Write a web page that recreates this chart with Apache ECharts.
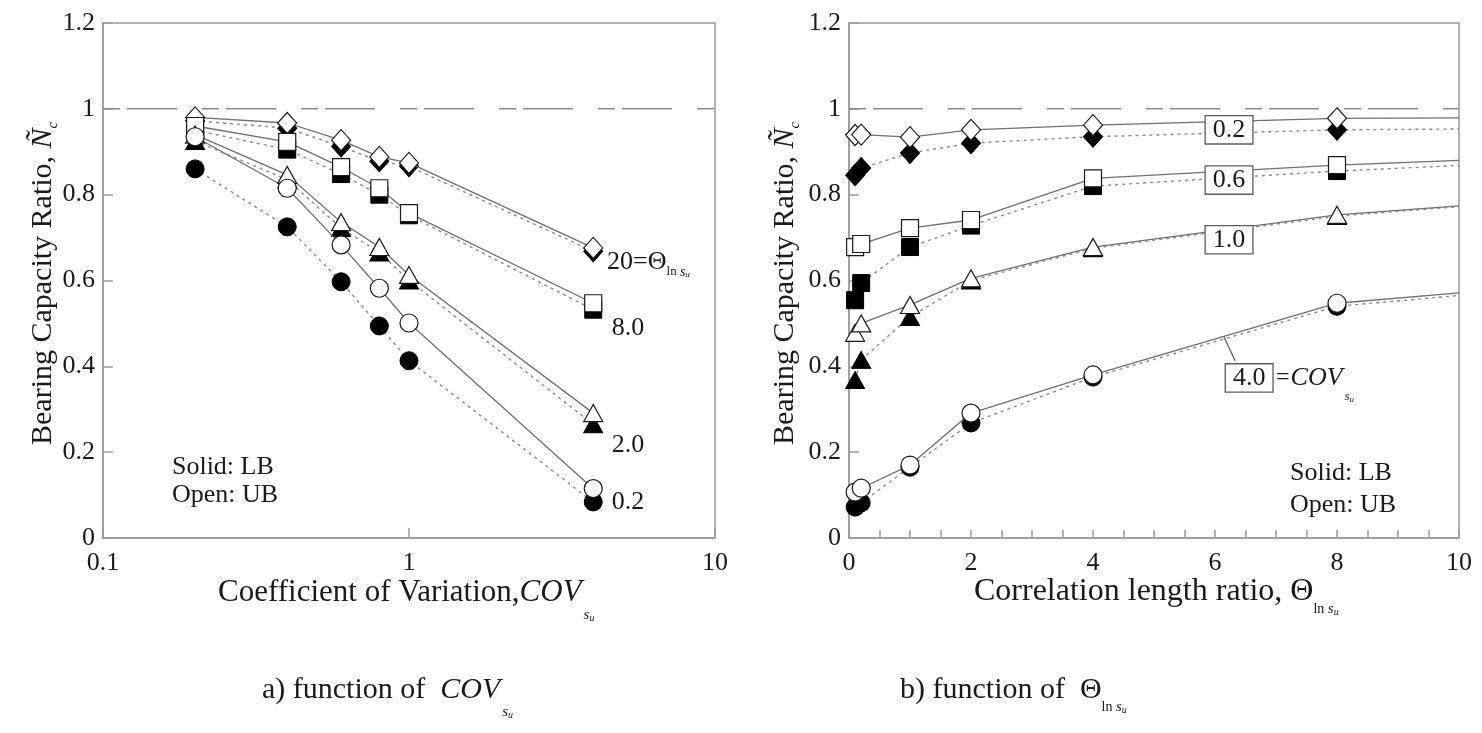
<!DOCTYPE html>
<html><head><meta charset="utf-8">
<script src="https://cdn.jsdelivr.net/npm/echarts/dist/echarts.min.js"></script>
<style>html,body{margin:0;padding:0;background:#fff}#c{width:1482px;height:733px}</style>
</head><body><div id="c"></div>
<script>
// ---------- data ----------
const COV = [0.2, 0.4, 0.6, 0.8, 1.0, 4.0];           // left plot x values
const TH20_UB = [0.980, 0.967, 0.927, 0.888, 0.874, 0.676];
const TH20_LB = [0.972, 0.955, 0.912, 0.878, 0.866, 0.668];
const TH8_UB  = [0.960, 0.923, 0.864, 0.815, 0.757, 0.547];
const TH8_LB  = [0.950, 0.905, 0.848, 0.800, 0.752, 0.532];
const TH2_UB  = [0.940, 0.846, 0.736, 0.678, 0.613, 0.291];
const TH2_LB  = [0.925, 0.835, 0.722, 0.665, 0.600, 0.265];
const TH02_UB = [0.935, 0.815, 0.683, 0.582, 0.501, 0.115];
const TH02_LB = [0.860, 0.725, 0.597, 0.494, 0.413, 0.084];

const THETA = [0.1, 0.2, 1, 2, 4, 8, 10];             // right plot x values (10 = curve end, no marker)
const C02_UB = [0.939, 0.940, 0.934, 0.951, 0.962, 0.978, 0.979];
const C02_LB = [0.845, 0.862, 0.897, 0.920, 0.935, 0.951, 0.953];
const C06_UB = [0.678, 0.685, 0.722, 0.741, 0.838, 0.869, 0.880];
const C06_LB = [0.554, 0.594, 0.678, 0.728, 0.820, 0.855, 0.868];
const C10_UB = [0.478, 0.500, 0.543, 0.605, 0.678, 0.753, 0.774];
const C10_LB = [0.368, 0.415, 0.515, 0.600, 0.675, 0.750, 0.772];
const C40_UB = [0.107, 0.116, 0.170, 0.291, 0.380, 0.547, 0.571];
const C40_LB = [0.072, 0.082, 0.165, 0.268, 0.375, 0.540, 0.565];

const REF_VALUE = 1;
const Y_TICKS = [0, 0.2, 0.4, 0.6, 0.8, 1, 1.2];
// ----------------------------------------------------

const FF = '"Liberation Serif", "Times New Roman", serif';
const AX = {color: '#9a9a9a', width: 1.5};
const chart = echarts.init(document.getElementById('c'), null, {renderer: 'canvas'});

function yAxis(gi) {
  return {type: 'value', gridIndex: gi, min: Y_TICKS[0], max: Y_TICKS[Y_TICKS.length - 1], interval: 0.2,
    axisLine: {show: true, lineStyle: AX}, axisTick: {show: true, inside: true, length: 10, lineStyle: AX},
    splitLine: {show: false},
    axisLabel: {fontFamily: FF, fontSize: 26, color: '#1a1a1a', margin: 8,
      formatter: v => String(Math.round(v * 10) / 10)}};
}

function mk(gi, xs, ys, symbol, size, open, lastNone) {
  return {
    type: 'line', xAxisIndex: gi, yAxisIndex: gi, animation: false, silent: true,
    z: open ? 4 : 3,
    data: xs.map((x, i) => (lastNone && i === xs.length - 1) ? {value: [x, ys[i]], symbol: 'none'} : [x, ys[i]]),
    symbol: symbol, symbolSize: size, showAllSymbol: true,
    lineStyle: open ? {color: '#6f6f6f', width: 1.3, type: 'solid'} : {color: '#8a8a8a', width: 1.4, type: [3, 4]},
    itemStyle: open ? {color: '#fff', borderColor: '#1a1a1a', borderWidth: 1.2} : {color: '#000', borderColor: '#000', borderWidth: 1},
    emphasis: {disabled: true}
  };
}

const SYM = {
  dia: ['diamond', [19, 21]], sq: ['rect', 17], tri: ['triangle', [19, 17]], cir: ['circle', 18]
};

const series = [];
// reference lines at 1
series.push({type: 'line', xAxisIndex: 0, yAxisIndex: 0, data: [[0.1, REF_VALUE], [10, REF_VALUE]], symbol: 'none', silent: true,
  lineStyle: {color: '#8a8a8a', width: 1.5, type: [17, 7, 50, 25]}, z: 1, animation: false});
series.push({type: 'line', xAxisIndex: 1, yAxisIndex: 1, data: [[0, REF_VALUE], [10, REF_VALUE]], symbol: 'none', silent: true,
  lineStyle: {color: '#8a8a8a', width: 1.5, type: [17, 7, 50, 25]}, z: 1, animation: false});

// left: LB first (solid, dotted line), then UB (open, solid line)
[[TH20_LB, 'dia'], [TH8_LB, 'sq'], [TH2_LB, 'tri'], [TH02_LB, 'cir']].forEach(([d, s]) =>
  series.push(mk(0, COV, d, SYM[s][0], SYM[s][1], false, false)));
[[TH20_UB, 'dia'], [TH8_UB, 'sq'], [TH2_UB, 'tri'], [TH02_UB, 'cir']].forEach(([d, s]) =>
  series.push(mk(0, COV, d, SYM[s][0], SYM[s][1], true, false)));
// right
[[C02_LB, 'dia'], [C06_LB, 'sq'], [C10_LB, 'tri'], [C40_LB, 'cir']].forEach(([d, s]) =>
  series.push(mk(1, THETA, d, SYM[s][0], SYM[s][1], false, true)));
[[C02_UB, 'dia'], [C06_UB, 'sq'], [C10_UB, 'tri'], [C40_UB, 'cir']].forEach(([d, s]) =>
  series.push(mk(1, THETA, d, SYM[s][0], SYM[s][1], true, true)));

chart.setOption({
  animation: false,
  backgroundColor: '#fff',
  grid: [
    {left: 103, top: 23, width: 612, height: 515, show: true, borderColor: '#9a9a9a', borderWidth: 1.5, backgroundColor: 'transparent'},
    {left: 849, top: 23, width: 610, height: 515, show: true, borderColor: '#9a9a9a', borderWidth: 1.5, backgroundColor: 'transparent'}
  ],
  xAxis: [
    {type: 'log', logBase: 10, gridIndex: 0, min: 0.1, max: 10,
      axisLine: {show: true, lineStyle: AX}, axisTick: {show: true, inside: true, length: 10, lineStyle: AX},
      splitLine: {show: false},
      axisLabel: {fontFamily: FF, fontSize: 26, color: '#1a1a1a', margin: 12, formatter: v => String(+(+v).toPrecision(3))}},
    {type: 'value', gridIndex: 1, min: 0, max: 10, interval: 2,
      axisLine: {show: true, lineStyle: AX}, axisTick: {show: true, inside: true, length: 8, lineStyle: AX},
      minorTick: {show: true, splitNumber: 4, length: 8, lineStyle: AX},
      splitLine: {show: false},
      axisLabel: {fontFamily: FF, fontSize: 26, color: '#1a1a1a', margin: 12}}
  ],
  yAxis: [yAxis(0), yAxis(1)],
  series: series
});

// ---------- text annotations ----------
const cv = document.createElement('canvas').getContext('2d');
function fontStr(fs, it) { return (it ? 'italic ' : '') + fs + 'px "Liberation Serif"'; }
function measure(t, f) { cv.font = f; return cv.measureText(t).width; }
function txt(x, y, t, fs, it, extra) {
  return {type: 'text', x: x, y: y, silent: true, z: 50,
    style: Object.assign({text: t, font: fontStr(fs, it), fill: '#1a1a1a', textAlign: 'left', textVerticalAlign: 'middle',
      align: 'left', verticalAlign: 'middle'}, extra || {})};
}
// sequence of segments laid out horizontally in a (possibly rotated) group
function seq(x, y, rot, segs) {
  let cx = 0; const ch = [];
  segs.forEach(s => {
    const f = fontStr(s.fs, s.it);
    ch.push(txt(cx, s.dy || 0, s.t, s.fs, s.it));
    cx += measure(s.t, f) + (s.gap || 0);
  });
  return {type: 'group', x: x, y: y, rotation: rot || 0, children: ch, silent: true, z: 50};
}
const P0 = p => chart.convertToPixel({gridIndex: 0}, p);
const P1 = p => chart.convertToPixel({gridIndex: 1}, p);

const g = [];
// axis titles
g.push(seq(43, 445, Math.PI / 2, [
  {t: 'Bearing Capacity Ratio, ', fs: 30}, {t: 'Ñ', fs: 30, it: true}, {t: 'c', fs: 15, it: true, dy: 10}]));
g.push(seq(785, 445, Math.PI / 2, [
  {t: 'Bearing Capacity Ratio, ', fs: 30}, {t: 'Ñ', fs: 30, it: true}, {t: 'c', fs: 15, it: true, dy: 10}]));
g.push(seq(218, 593, 0, [
  {t: 'Coefficient of Variation,', fs: 31}, {t: 'COV', fs: 31, it: true, gap: 2}, {t: 's', fs: 15, it: true, dy: 22}, {t: 'u', fs: 10, it: true, dy: 25}]));
g.push(seq(974, 592, 0, [
  {t: 'Correlation length ratio, Θ', fs: 32}, {t: 'ln ', fs: 14, dy: 17}, {t: 's', fs: 15, it: true, dy: 17}, {t: 'u', fs: 10, it: true, dy: 20}]));
// captions
g.push(seq(262, 690, 0, [
  {t: 'a) function of  ', fs: 30}, {t: 'COV', fs: 30, it: true, gap: 2}, {t: 's', fs: 15, it: true, dy: 22}, {t: 'u', fs: 10, it: true, dy: 25}]));
g.push(seq(900, 690, 0, [
  {t: 'b) function of  Θ', fs: 30}, {t: 'ln ', fs: 14, dy: 17}, {t: 's', fs: 15, it: true, dy: 17}, {t: 'u', fs: 10, it: true, dy: 20}]));

// left plot labels
let p = P0([4.44, 0.643]);
g.push(seq(p[0], p[1], 0, [{t: '20=Θ', fs: 26}, {t: 'ln ', fs: 13, dy: 10}, {t: 's', fs: 14, it: true, dy: 10}, {t: 'u', fs: 9, it: true, dy: 13}]));
[['8.0', 0.489], ['2.0', 0.217], ['0.2', 0.084]].forEach(([t, v]) => {
  const q = P0([4.6, v]); g.push(txt(q[0], q[1], t, 26, false));
});
p = P0([0.168, 0.165]); g.push(txt(p[0], p[1], 'Solid: LB', 26, false));
p = P0([0.168, 0.100]); g.push(txt(p[0], p[1], 'Open: UB', 26, false));

// right plot labels
p = P1([7.23, 0.151]); g.push(txt(p[0], p[1], 'Solid: LB', 26, false));
p = P1([7.23, 0.077]); g.push(txt(p[0], p[1], 'Open: UB', 26, false));
const boxStyle = {backgroundColor: '#fff', borderColor: '#5a5a5a', borderWidth: 1.3, padding: [1, 7, 0, 7],
  textAlign: 'center', align: 'center'};
[['0.2', 6.23, 0.951], ['0.6', 6.23, 0.834], ['1.0', 6.23, 0.695], ['4.0', 6.56, 0.373]].forEach(([t, x, v]) => {
  const q = P1([x, v]); g.push(txt(q[0], q[1], t, 26, false, boxStyle));
});
const a1 = P1([6.15, 0.468]), a2 = P1([6.33, 0.413]);
g.push({type: 'line', silent: true, z: 49, shape: {x1: a1[0], y1: a1[1], x2: a2[0], y2: a2[1]}, style: {stroke: '#555', lineWidth: 1.2}});
p = P1([7.0, 0.373]);
g.push(seq(p[0], p[1], 0, [{t: '=', fs: 24, gap: 1}, {t: 'COV', fs: 26, it: true, gap: 2}, {t: 's', fs: 13, it: true, dy: 19}, {t: 'u', fs: 9, it: true, dy: 22}]));

chart.setOption({graphic: {elements: g}});
</script>
</body></html>
